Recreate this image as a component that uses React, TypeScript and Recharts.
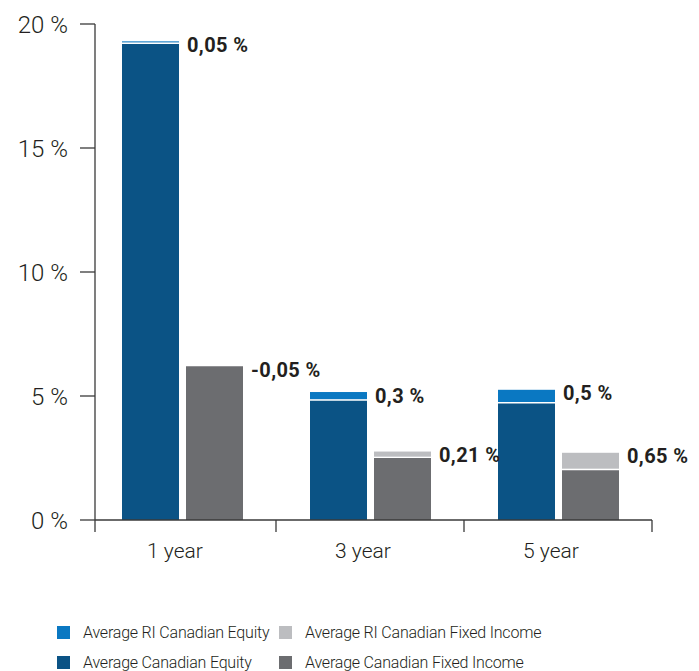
import React from 'react';
import { BarChart, Bar, XAxis, YAxis, Legend, LabelList } from 'recharts';

const categories = ['1 year', '3 year', '5 year'];
const avgEquity = [19.25, 4.86, 4.75];
const riEquityDiff = [0.05, 0.3, 0.5];
const avgFixed = [6.2, 2.55, 2.06];
const riFixedDiff = [-0.05, 0.21, 0.65];
const yTicks = [0, 5, 10, 15, 20];

const SERIES = {
  riEq: 'Average RI Canadian Equity',
  riFi: 'Average RI Canadian Fixed Income',
  eq: 'Average Canadian Equity',
  fi: 'Average Canadian Fixed Income',
};
const legendOrder = [SERIES.riEq, SERIES.riFi, SERIES.eq, SERIES.fi];

const COLORS = {
  eq: '#0b5385',
  riEq: '#0a78c2',
  fi: '#6c6d70',
  riFi: '#bcbdc0',
};

const TEXT = '#231f20';
const AXIS = '#3a3a3a';
const PAD_LEFT = -7;

const data = categories.map((c, i) => ({
  cat: c,
  eq: avgEquity[i],
  riEq: riEquityDiff[i],
  fi: avgFixed[i],
  riFi: riFixedDiff[i],
}));

const fmt = (v: number) => String(v).replace('.', ',') + ' %';

const RiShape = (props: any) => {
  const { x, y, width, height, fill } = props;
  if (!(height > 0)) return <g />;
  return (
    <g>
      <rect x={x} y={y} width={width} height={height} fill={fill} />
      <line x1={x} x2={x + width} y1={y + height + 0.6} y2={y + height + 0.6} stroke="#fff" strokeWidth={1.4} />
    </g>
  );
};

const ValueLabel = (props: any) => {
  const { x, y, width, value } = props;
  return (
    <text
      x={x + width + 8}
      y={y + 3.5}
      dominantBaseline="central"
      fontFamily="Roboto"
      fontWeight={700}
      fontSize={20}
      letterSpacing={0.4}
      fill={TEXT}
    >
      {fmt(value)}
    </text>
  );
};

const XTick = (props: any) => {
  const { x, y, payload, index } = props;
  const off = payload && typeof payload.offset === 'number' ? payload.offset : 0;
  return (
    <g>
      {index === 0 && (
        <line x1={x - off - PAD_LEFT} x2={x - off - PAD_LEFT} y1={y} y2={y + 12} stroke={AXIS} strokeWidth={1.3} />
      )}
      <line x1={x + off} x2={x + off} y1={y} y2={y + 12} stroke={AXIS} strokeWidth={1.3} />
      <text
        x={x - 7}
        y={y + 31}
        textAnchor="middle"
        dominantBaseline="central"
        fontFamily="Roboto"
        fontWeight={300}
        fontSize={21}
        fill={TEXT}
      >
        {payload.value}
      </text>
    </g>
  );
};

const LegendContent = (props: any) => {
  const payload = (props.payload || []).slice();
  payload.sort((a: any, b: any) => legendOrder.indexOf(a.value) - legendOrder.indexOf(b.value));
  return (
    <div style={{ display: 'grid', gridTemplateColumns: '222px 360px', rowGap: 0 }}>
      {payload.map((p: any) => (
        <div key={p.value} style={{ display: 'flex', alignItems: 'center', height: 30 }}>
          <span
            style={{
              display: 'inline-block',
              flex: '0 0 13px',
              width: 13,
              height: 13,
              background: p.color,
              marginRight: 13,
            }}
          />
          <span
            style={{
              fontFamily: 'Roboto',
              fontWeight: 300,
              fontSize: 16,
              letterSpacing: -0.2,
              color: TEXT,
              whiteSpace: 'nowrap',
            }}
          >
            {p.value}
          </span>
        </div>
      ))}
    </div>
  );
};

export default function App() {
  return (
    <BarChart
      width={691}
      height={663}
      data={data}
      margin={{ top: 16, right: 47, bottom: 111, left: 0 }}
      barSize={57}
      barGap={7}
    >
      <XAxis
        dataKey="cat"
        height={40}
        padding={{ left: PAD_LEFT, right: 0 }}
        axisLine={{ stroke: AXIS, strokeWidth: 1.3 }}
        tickLine={false}
        tickSize={0}
        tickMargin={0}
        tick={<XTick />}
        interval={0}
      />
      <YAxis
        width={87}
        domain={[0, 20]}
        ticks={yTicks}
        interval={0}
        axisLine={{ stroke: AXIS, strokeWidth: 1.3 }}
        tickLine={{ stroke: AXIS, strokeWidth: 1.3 }}
        tickSize={15}
        tickMargin={12}
        tickFormatter={(v: number) => `${v} %`}
        tick={{ fontFamily: 'Roboto', fontWeight: 300, fontSize: 24, fill: TEXT }}
      />
      <Legend
        layout="horizontal"
        verticalAlign="middle"
        align="center"
        content={<LegendContent />}
        wrapperStyle={{ top: 609, left: 49, width: 640, height: 60 }}
      />
      <Bar dataKey="eq" name={SERIES.eq} stackId="eq" fill={COLORS.eq} isAnimationActive={false} />
      <Bar
        dataKey={(d: any) => Math.max(d.riEq, 0)}
        name={SERIES.riEq}
        stackId="eq"
        fill={COLORS.riEq}
        shape={<RiShape />}
        isAnimationActive={false}
      >
        <LabelList dataKey="riEq" content={<ValueLabel />} />
      </Bar>
      <Bar dataKey="fi" name={SERIES.fi} stackId="fi" fill={COLORS.fi} isAnimationActive={false} />
      <Bar
        dataKey={(d: any) => Math.max(d.riFi, 0)}
        name={SERIES.riFi}
        stackId="fi"
        fill={COLORS.riFi}
        shape={<RiShape />}
        isAnimationActive={false}
      >
        <LabelList dataKey="riFi" content={<ValueLabel />} />
      </Bar>
    </BarChart>
  );
}
